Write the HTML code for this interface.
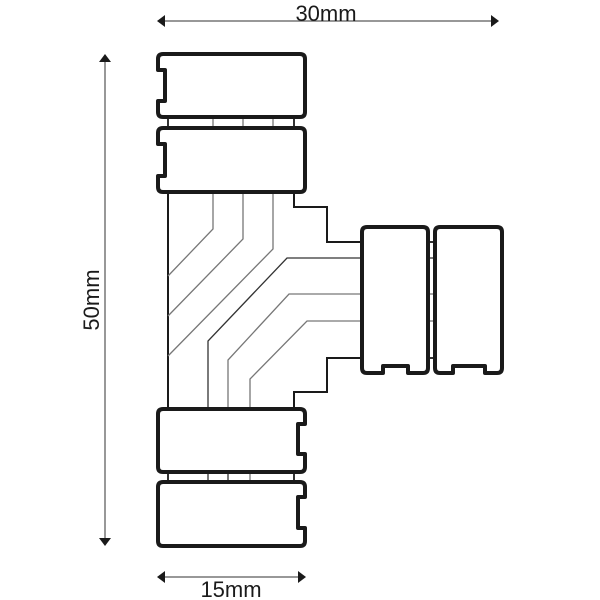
<!DOCTYPE html>
<html><head><style>html,body{margin:0;padding:0;background:#fff}svg{display:block}</style></head>
<body>
<svg width="600" height="600" viewBox="0 0 600 600" xmlns="http://www.w3.org/2000/svg">
<g fill="none" stroke="#1a1a1a" stroke-width="2">
<line x1="168" y1="193" x2="168" y2="408"/>
<polyline points="294,193 294,207 327,207 327,242 362,242"/>
<polyline points="294,408 294,392 327,392 327,358 362,358"/>
</g>
<g fill="none" stroke="#333" stroke-width="1.3">
<polyline points="213,193 213,229 168,276" stroke="#777"/>
<polyline points="243,193 243,239 168,316" stroke="#777"/>
<polyline points="273,193 273,249 168,356" stroke="#777"/>
<polyline points="362,258 287,258 208,341 208,408"/>
<polyline points="362,294 289,294 228,360 228,408" stroke="#777"/>
<polyline points="362,321 307,321 250,379 250,408" stroke="#777"/>
<line x1="168" y1="117" x2="168" y2="128" stroke-width="2"/>
<line x1="213" y1="117" x2="213" y2="128" stroke="#777"/>
<line x1="243" y1="117" x2="243" y2="128" stroke="#777"/>
<line x1="273" y1="117" x2="273" y2="128" stroke="#777"/>
<line x1="294" y1="117" x2="294" y2="128" stroke-width="2"/>
<line x1="168" y1="472" x2="168" y2="482" stroke-width="2"/>
<line x1="208" y1="472" x2="208" y2="482"/>
<line x1="228" y1="472" x2="228" y2="482"/>
<line x1="250" y1="472" x2="250" y2="482" stroke="#777"/>
<line x1="294" y1="472" x2="294" y2="482" stroke-width="2"/>
<line x1="428" y1="242" x2="436" y2="242" stroke-width="2"/>
<line x1="428" y1="258" x2="436" y2="258"/>
<line x1="428" y1="294" x2="436" y2="294" stroke="#777"/>
<line x1="428" y1="321" x2="436" y2="321" stroke="#777"/>
<line x1="428" y1="358" x2="436" y2="358" stroke-width="2"/>
</g>
<g fill="#fff" stroke="#1a1a1a" stroke-width="4" stroke-linejoin="round">
<path d="M163,54 H300 Q305,54 305,59 V112 Q305,117 300,117 H163 Q158,117 158,112 V101 H165 V70 H158 V59 Q158,54 163,54 Z"/>
<path d="M163,128 H300 Q305,128 305,133 V187 Q305,192 300,192 H163 Q158,192 158,187 V176 H165 V144 H158 V133 Q158,128 163,128 Z"/>
<path d="M163,409 H300 Q305,409 305,414 V424 H298 V454 H305 V467 Q305,472 300,472 H163 Q158,472 158,467 V414 Q158,409 163,409 Z"/>
<path d="M163,482 H300 Q305,482 305,487 V497 H298 V528 H305 V541 Q305,546 300,546 H163 Q158,546 158,541 V487 Q158,482 163,482 Z"/>
<path d="M367,227 H423 Q428,227 428,232 V368 Q428,373 423,373 H408 V366 H383 V373 H367 Q362,373 362,368 V232 Q362,227 367,227 Z"/>
<path d="M440,227 H497 Q502,227 502,232 V368 Q502,373 497,373 H485 V366 H453 V373 H440 Q435,373 435,368 V232 Q435,227 440,227 Z"/>
</g>
<g stroke="#777" stroke-width="1.5">
<line x1="160" y1="21" x2="496" y2="21"/>
<line x1="105" y1="57" x2="105" y2="543"/>
<line x1="160" y1="577" x2="303" y2="577"/>
</g>
<g fill="#1a1a1a">
<polygon points="157,21 165,15 165,27"/>
<polygon points="499,21 491,15 491,27"/>
<polygon points="105,54 99,62 111,62"/>
<polygon points="105,546 99,538 111,538"/>
<polygon points="157,577 165,571 165,583"/>
<polygon points="306,577 298,571 298,583"/>
</g>
<g font-family="Liberation Sans, sans-serif" font-size="22" fill="#1a1a1a" text-anchor="middle">
<text x="326" y="21">30mm</text>
<text x="231" y="597">15mm</text>
<text transform="translate(99,300) rotate(-90)">50mm</text>
</g>
</svg>
</body></html>
